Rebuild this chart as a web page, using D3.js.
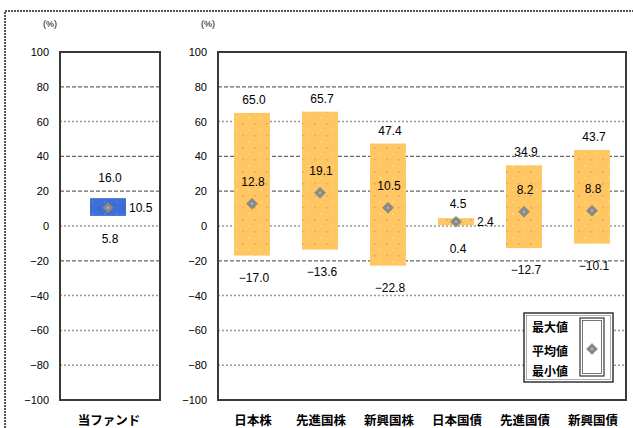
<!DOCTYPE html>
<html>
<head>
<meta charset="utf-8"/>
<style>
  body { margin: 0; background: #fff; }
  svg text { font-family: "Liberation Sans", Arial, sans-serif; }
  .cat, .leg { font-family: "Noto Sans CJK JP", sans-serif !important; font-weight: bold; }
</style>
</head>
<body>
<svg id="chart" width="633" height="428"></svg>
<script src="https://d3js.org/d3.v7.min.js"></script>
<script>
// --- data ---
const fundCategories = ["当ファンド"];
const fundMax = [16.0];
const fundAvg = [10.5];
const fundMin = [5.8];

const categories = ["日本株", "先進国株", "新興国株", "日本国債", "先進国債", "新興国債"];
const maxVals = [65.0, 65.7, 47.4, 4.5, 34.9, 43.7];
const avgVals = [12.8, 19.1, 10.5, 2.4, 8.2, 8.8];
const minVals = [-17.0, -13.6, -22.8, 0.4, -12.7, -10.1];

const yTicks = [100, 80, 60, 40, 20, 0, -20, -40, -60, -80, -100];
const darkGrid = [80, 40, 20, -20];
const legendLabels = ["最大値", "平均値", "最小値"];

const svg = d3.select("#chart");
const plotTop = 52, plotBottom = 400;
const y = d3.scaleLinear().domain([-100, 100]).range([plotBottom, plotTop]);
const barW = 36;

// patterns
const defs = svg.append("defs");
function dotPattern(id, bg, c1, c2) {
  const p = defs.append("pattern").attr("id", id).attr("patternUnits", "userSpaceOnUse")
    .attr("width", 12).attr("height", 12);
  p.append("rect").attr("width", 12).attr("height", 12).attr("fill", bg);
  p.append("rect").attr("x", 2).attr("y", 3).attr("width", 1.5).attr("height", 1.5).attr("fill", c1);
  p.append("rect").attr("x", 8).attr("y", 9).attr("width", 1.5).attr("height", 1.5).attr("fill", c2);
}
dotPattern("orangeDots", "#ffc664", "#f59a4a", "#ffe27a");
dotPattern("blueDots", "#3d6fd6", "#2a55b8", "#5a8ae6");

// outer page border
svg.append("path").attr("d", "M5,428 V11 H633")
  .attr("fill", "none").attr("stroke", "#555").attr("stroke-width", 2).attr("stroke-dasharray", "2,1");

function diamond(g, cx, cy) {
  g.append("path")
    .attr("d", `M${cx},${cy - 5.5} L${cx + 5.5},${cy} L${cx},${cy + 5.5} L${cx - 5.5},${cy} Z`)
    .attr("fill", "#8a8a8a").attr("stroke", "#777").attr("stroke-width", 0.5);
  g.append("rect").attr("x", cx - 1).attr("y", cy - 1).attr("width", 2).attr("height", 2).attr("fill", "#b8b8b8");
}

function panel(opts) {
  const { x0, x1, cats, mx, av, mn, fill, maxOff, minOff } = opts;
  const g = svg.append("g");
  const x = d3.scaleBand().domain(cats).range([x0, x1]).padding(0);

  // grid lines
  yTicks.filter(t => t !== 100 && t !== -100).forEach(t => {
    const dark = darkGrid.includes(t);
    g.append("line").attr("x1", x0).attr("x2", x1).attr("y1", y(t)).attr("y2", y(t))
      .attr("stroke", dark ? "#666" : "#999")
      .attr("stroke-width", dark ? 1.2 : 1.5)
      .attr("stroke-dasharray", dark ? "4,2" : "2,2");
  });

  // y axis labels
  const ax = g.append("g").attr("transform", `translate(${x0},0)`)
    .call(d3.axisLeft(y).tickValues(yTicks).tickSize(0).tickPadding(11));
  ax.select(".domain").remove();
  ax.selectAll("text").attr("font-size", 11).attr("fill", "#000")
    .attr("font-family", "Liberation Sans, Arial, sans-serif");

  g.append("text").attr("x", x0 - 10).attr("y", 27).attr("text-anchor", "middle")
    .attr("font-size", 9).text("(%)");

  const data = cats.map((c, i) => ({ c, mx: mx[i], av: av[i], mn: mn[i] }));

  data.forEach(d => {
    const cx = x(d.c) + x.bandwidth() / 2 - (cats.length === 1 ? 2 : 0);
    const yt = y(d.mx), yb = y(d.mn);
    g.append("rect").attr("x", cx - barW / 2).attr("y", yt).attr("width", barW)
      .attr("height", yb - yt).attr("fill", fill);
    diamond(g, cx, y(d.av));

    const side = (yb - yt) < 25;
    g.append("text").attr("x", cx + 2).attr("y", yt - (side ? maxOff : 9))
      .attr("text-anchor", "middle").attr("font-size", 12).text(d.mx.toFixed(1));
    g.append("text").attr("x", cx + 2).attr("y", yb + (side ? minOff : 26))
      .attr("text-anchor", "middle").attr("font-size", 12)
      .text(d.mn < 0 ? "\u2212" + Math.abs(d.mn).toFixed(1) : d.mn.toFixed(1));
    if (side) {
      g.append("text").attr("x", cx + barW / 2 + 3).attr("y", y(d.av) + 4)
        .attr("font-size", 12).text(d.av.toFixed(1));
    } else {
      g.append("text").attr("x", cx + 1).attr("y", y(d.av) - 18)
        .attr("text-anchor", "middle").attr("font-size", 12).text(d.av.toFixed(1));
    }

    g.append("text").attr("class", "cat").attr("x", cx + 1).attr("y", 425)
      .attr("text-anchor", "middle").attr("font-size", 12.5).text(d.c);
  });

  // frame
  g.append("rect").attr("x", x0).attr("y", plotTop).attr("width", x1 - x0).attr("height", plotBottom - plotTop)
    .attr("fill", "none").attr("stroke", "#3a3a3a").attr("stroke-width", 2);
  return g;
}

panel({ x0: 60, x1: 160, cats: fundCategories, mx: fundMax, av: fundAvg, mn: fundMin,
        fill: "url(#blueDots)", maxOff: 16, minOff: 27 });
panel({ x0: 218, x1: 626, cats: categories, mx: maxVals, av: avgVals, mn: minVals,
        fill: "url(#orangeDots)", maxOff: 10, minOff: 28 });

// legend
const lg = svg.append("g");
lg.append("rect").attr("x", 524).attr("y", 313).attr("width", 89).attr("height", 69)
  .attr("fill", "#fff").attr("stroke", "#333").attr("stroke-width", 1.5);
lg.append("rect").attr("x", 526.5).attr("y", 315.5).attr("width", 84).attr("height", 64)
  .attr("fill", "none").attr("stroke", "#777").attr("stroke-width", 0.6);
const ly = [332, 356, 376];
legendLabels.forEach((t, i) => {
  lg.append("text").attr("class", "leg").attr("x", 532).attr("y", ly[i])
    .attr("font-size", 12).text(t);
});
lg.append("rect").attr("x", 580).attr("y", 318).attr("width", 24).attr("height", 58)
  .attr("fill", "#fff").attr("stroke", "#333").attr("stroke-width", 1.2);
lg.append("rect").attr("x", 582.5).attr("y", 320.5).attr("width", 19).attr("height", 53)
  .attr("fill", "none").attr("stroke", "#555").attr("stroke-width", 0.8);
diamond(lg, 592, 349);
</script>
</body>
</html>
